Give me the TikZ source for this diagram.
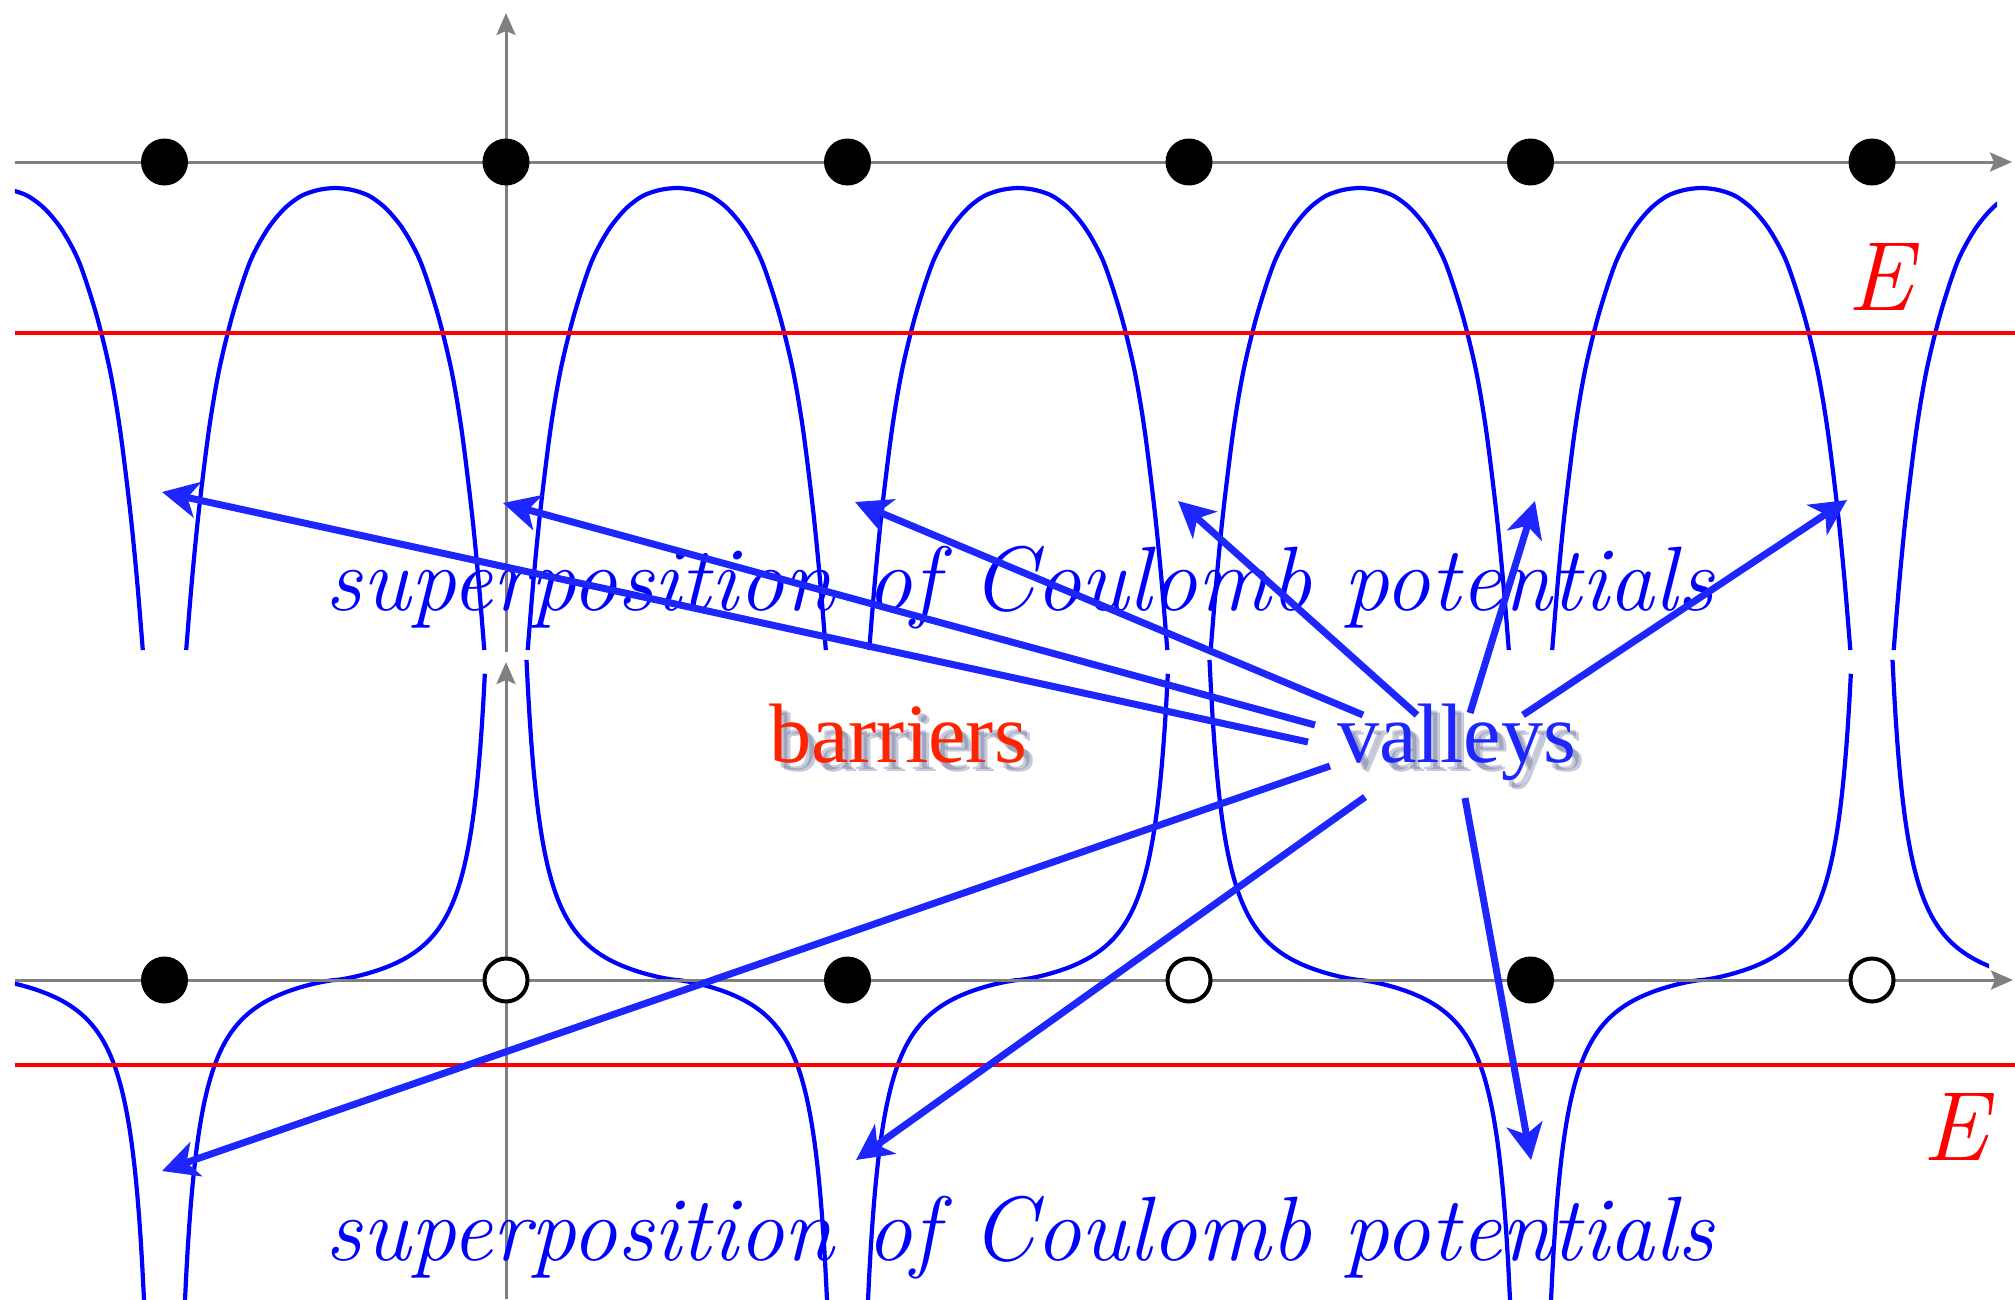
\documentclass[tikz,border=0pt]{standalone}
\usepackage{fontspec}
\newfontfamily\timesfont{Liberation Serif}
\usetikzlibrary{arrows.meta}

\definecolor{potblue}{RGB}{0,0,255}
\definecolor{arrowblue}{RGB}{30,38,255}
\definecolor{barred}{RGB}{255,36,0}
\definecolor{shadowgray}{RGB}{70,80,130}

\tikzset{
  axis/.style={draw=gray, line width=0.03cm, -{Stealth[length=0.22cm,width=0.19cm,inset=0.04cm]}},
  pot/.style={draw=potblue, line width=0.042cm},
  level/.style={draw=red, line width=0.045cm},
  ion/.style={circle, fill=black, inner sep=0pt, minimum size=0.47cm},
  hole/.style={circle, draw=black, fill=white, line width=0.04cm, inner sep=0pt, minimum size=0.43cm},
  pointer/.style={draw=arrowblue, line width=0.07cm, -{Stealth[length=0.36cm,width=0.36cm,inset=0.1cm]}},
  sup/.style={anchor=base west, inner sep=0pt, text=potblue, font=\itshape\fontsize{26}{31}\selectfont},
  elabel/.style={anchor=base, inner sep=0pt, text=red, font=\itshape\fontsize{28}{32}\selectfont},
  word/.style={anchor=base, inner sep=0pt, font=\timesfont\fontsize{24}{28}\selectfont},
  shade/.style={word, text=shadowgray, text opacity=0.3}
}

\begin{document}
\begin{tikzpicture}
\useasboundingbox (0,0) rectangle (20.15,-12.99);

% periodic potential (top)
\begin{scope}
\clip (0.15,0) rectangle (19.97,-6.6);
\foreach \a in {-1.77,1.645,5.06,8.475,11.89,15.305,18.72}
  \draw[pot, shift={(\a,0)}] plot[smooth] coordinates {
    (0.217,-6.50) (0.273,-5.82) (0.342,-5.12) (0.444,-4.30) (0.546,-3.70)
    (0.683,-3.14) (0.854,-2.62) (1.025,-2.30) (1.195,-2.09) (1.366,-1.96)
    (1.537,-1.90) (1.708,-1.88) (1.879,-1.90) (2.049,-1.96) (2.220,-2.09)
    (2.391,-2.30) (2.561,-2.62) (2.732,-3.14) (2.869,-3.70) (2.971,-4.30)
    (3.073,-5.12) (3.142,-5.82) (3.198,-6.50)};
\end{scope}

% alternating charges (bottom)
\begin{scope}
\clip (0.15,-6.55) rectangle (19.89,-12.99);
\foreach \a in {1.645,8.475,15.305}
  \draw[pot] plot[domain=0.05:0.94, samples=201]
    ({\a+3.415*\x}, {-9.80-0.09*(1/\x-1/(1-\x))*exp(0.3*ln(abs(1/\x-1/(1-\x))+0.00001))});
\foreach \a in {-1.77,5.06,11.89,18.72}
  \draw[pot] plot[domain=0.06:0.95, samples=201]
    ({\a+3.415*\x}, {-9.80+0.09*(1/\x-1/(1-\x))*exp(0.3*ln(abs(1/\x-1/(1-\x))+0.00001))});
\end{scope}

% axes
\coordinate (xa0) at (0.15,-1.62);
\coordinate (xa1) at (20.12,-1.62);
\coordinate (ya0) at (5.06,-6.52);
\coordinate (ya1) at (5.06,-0.13);
\coordinate (xb0) at (0.15,-9.80);
\coordinate (xb1) at (20.13,-9.80);
\coordinate (yb0) at (5.06,-12.99);
\coordinate (yb1) at (5.06,-6.62);
\draw[axis] (xa0)--(xa1);
\draw[axis] (ya0)--(ya1);
\draw[axis] (xb0)--(xb1);
\draw[axis] (yb0)--(yb1);

% energy levels
\coordinate (ea0) at (0.15,-3.33);
\coordinate (ea1) at (20.15,-3.33);
\coordinate (eb0) at (0.15,-10.65);
\coordinate (eb1) at (20.15,-10.65);
\draw[level] (ea0)--(ea1);
\draw[level] (eb0)--(eb1);

% nuclei
\node[ion] (a1) at (1.645,-1.62) {};
\node[ion] (a2) at (5.06,-1.62) {};
\node[ion] (a3) at (8.475,-1.62) {};
\node[ion] (a4) at (11.89,-1.62) {};
\node[ion] (a5) at (15.305,-1.62) {};
\node[ion] (a6) at (18.72,-1.62) {};
\node[ion] (b1) at (1.645,-9.80) {};
\node[hole] (b2) at (5.06,-9.80) {};
\node[ion] (b3) at (8.475,-9.80) {};
\node[hole] (b4) at (11.89,-9.80) {};
\node[ion] (b5) at (15.305,-9.80) {};
\node[hole] (b6) at (18.72,-9.80) {};

% labels
\node[elabel] (e1) at (18.80,-3.10) {E};
\node[elabel] (e2) at (19.55,-11.60) {E};
\node[sup] (sup1) at (3.25,-6.10) {superposition of Coulomb potentials};
\node[sup] (sup2) at (3.25,-12.60) {superposition of Coulomb potentials};

\foreach \dx/\dy [count=\i] in {0.06/-0.07,0.09/-0.09}{
  \node[shade] (bsh\i) at (8.98+\dx,-7.62+\dy) {barriers};
  \node[shade] (vsh\i) at (14.565+\dx,-7.62+\dy) {valleys};
}
\node[word, text=barred] (barriers) at (8.98,-7.62) {barriers};
\node[word, text=arrowblue] (valleys) at (14.565,-7.62) {valleys};

% arrows from valleys
\coordinate (s1) at (13.08,-7.42);
\coordinate (s2) at (13.15,-7.25);
\coordinate (s3) at (13.63,-7.15);
\coordinate (s4) at (14.17,-7.15);
\coordinate (s5) at (14.70,-7.13);
\coordinate (s6) at (15.23,-7.15);
\coordinate (s7) at (13.30,-7.66);
\coordinate (s8) at (13.65,-7.97);
\coordinate (s9) at (14.65,-7.98);
\coordinate (v1) at (1.62,-4.92);
\coordinate (v2) at (5.03,-5.03);
\coordinate (v3) at (8.55,-5.02);
\coordinate (v4) at (11.78,-5.01);
\coordinate (v5) at (15.35,-5.01);
\coordinate (v6) at (18.47,-5.00);
\coordinate (v7) at (1.62,-11.71);
\coordinate (v8) at (8.56,-11.60);
\coordinate (v9) at (15.31,-11.60);

\draw[pointer] (s1)--(v1);
\draw[pointer] (s2)--(v2);
\draw[pointer] (s3)--(v3);
\draw[pointer] (s4)--(v4);
\draw[pointer] (s5)--(v5);
\draw[pointer] (s6)--(v6);
\draw[pointer] (s7)--(v7);
\draw[pointer] (s8)--(v8);
\draw[pointer] (s9)--(v9);
\end{tikzpicture}
\end{document}
